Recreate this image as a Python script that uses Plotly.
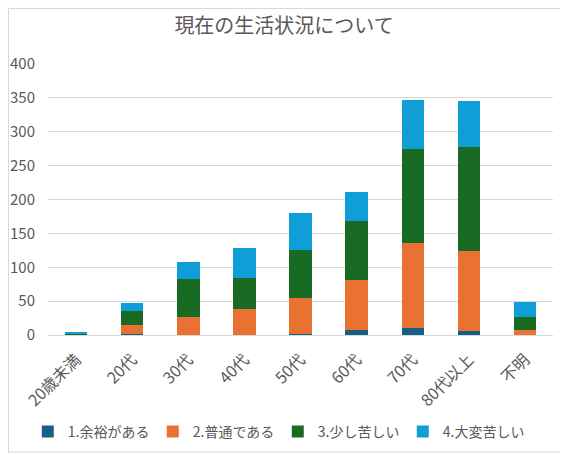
import plotly.graph_objects as go

categories = ["20歳未満", "20代", "30代", "40代", "50代", "60代", "70代", "80代以上", "不明"]

yoyu = [0, 2, 0, 0, 2, 7, 11, 6, 0]
futsu = [0, 13, 26, 39, 52, 74, 125, 118, 7]
sukoshi = [2, 21, 57, 45, 71, 87, 138, 153, 20]
taihen = [1, 11, 25, 45, 55, 43, 73, 68, 21]

series_names = ["1.余裕がある", "2.普通である", "3.少し苦しい", "4.大変苦しい"]
series_colors = ["#156082", "#E97132", "#196B24", "#0F9ED5"]

font_family = "Noto Sans CJK JP, Lato, sans-serif"
text_color = "#595959"

fig = go.Figure()
for name, values, color in zip(series_names, [yoyu, futsu, sukoshi, taihen], series_colors):
    fig.add_trace(go.Bar(x=categories, y=values, name=name,
                         marker=dict(color=color, line=dict(width=0))))

# page body has an 8px margin, so the figure is sized to the visible area
fig.update_layout(
    barmode="stack",
    bargap=0.6,
    width=560,
    height=447,
    margin=dict(l=40, r=15, t=56, b=120),
    paper_bgcolor="white",
    plot_bgcolor="white",
    font=dict(family=font_family, color=text_color, size=14),
    title=dict(text="現在の生活状況について", x=0.493, xref="container", y=0.96,
               yref="container", yanchor="middle", font=dict(size=20, color=text_color)),
    xaxis=dict(tickangle=-45, tickfont=dict(size=16), showgrid=False, automargin=False,
               showline=True, linecolor="#d9d9d9", ticks="", ticklabelstandoff=8),
    yaxis=dict(range=[0, 400], dtick=50, gridcolor="#d9d9d9", gridwidth=1, automargin=False,
               zeroline=False, tickfont=dict(size=15), ticks="", ticklabelstandoff=12),
    legend=dict(orientation="h", x=0.455, xanchor="center", yref="container", y=0.0515,
                yanchor="middle", font=dict(size=14), traceorder="normal", itemwidth=30,
                entrywidth=80, entrywidthmode="pixels"),
    shapes=[dict(type="rect", xref="paper", yref="paper",
                 x0=-0.0782, x1=1.0277, y0=-0.4317, y1=1.2048,
                 line=dict(color="#d9d9d9", width=1), layer="below")],
)

fig.write_html("out.html")
